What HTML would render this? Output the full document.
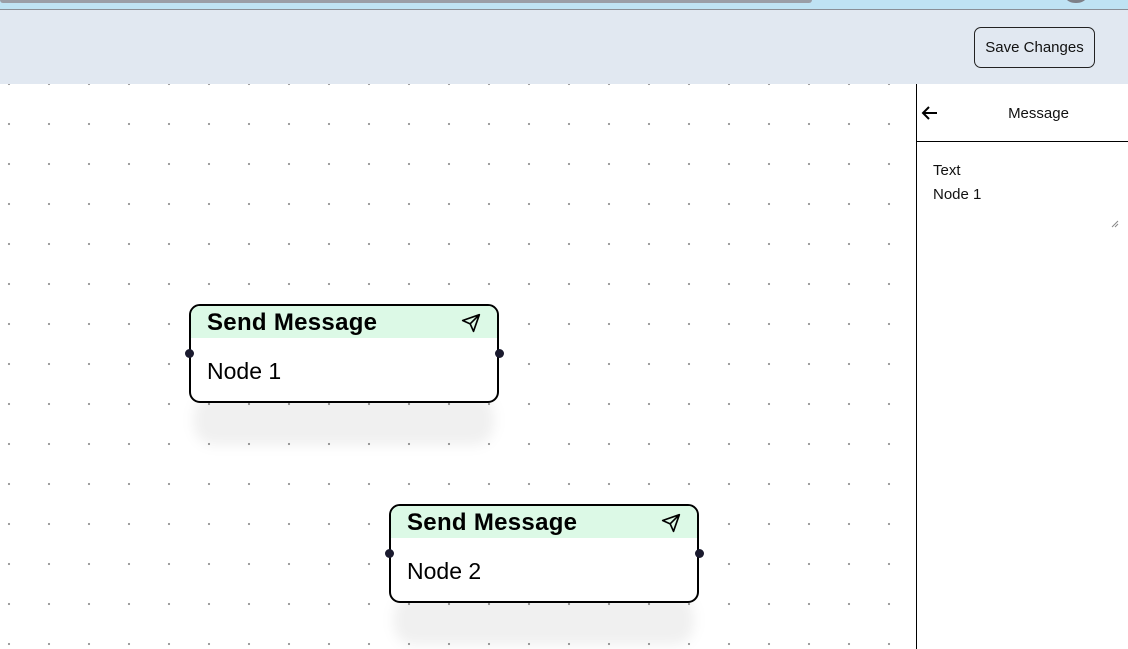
<!DOCTYPE html>
<html><head><style>
*{box-sizing:border-box;margin:0;padding:0}
body{width:1128px;height:649px;overflow:hidden;position:relative;background:#fff;font-family:"Liberation Sans",sans-serif}
.top{position:absolute;left:0;top:0;width:1128px;height:10px;background:#bfe3f3;border-bottom:1px solid #8a8f96}
.scroll{position:absolute;left:0;top:0;width:812px;height:3px;background:#9a9ea6;border-radius:0 0 4px 4px}
.circ{position:absolute;left:1066px;top:-8px;width:20px;height:11px;border-radius:50%;background:#7d8087}
.hdr{position:absolute;left:0;top:10px;width:1128px;height:74px;background:#e1e8f1}
.btn{position:absolute;left:974px;top:17px;width:121px;height:41px;border:1px solid #222;border-radius:7px;font-size:15px;line-height:39px;text-align:center;color:#111}
.canvas{position:absolute;left:0;top:84px;width:916px;height:565px;background-image:radial-gradient(circle,#9a9a9a 1px,transparent 1.3px);background-size:40px 40px;background-position:-11px 20px}
.panel{position:absolute;left:916px;top:84px;width:212px;height:565px;border-left:1px solid #000;background:#fff}
.ph{height:58px;border-bottom:1px solid #000;position:relative}
.ph .t{position:absolute;left:32px;right:0;top:21px;text-align:center;font-size:15px;color:#111}
.shadow{position:absolute;width:300px;height:50px;border-radius:20px;background:rgba(0,0,0,0.06);filter:blur(6px)}
.node{position:absolute;width:310px;height:99px;border:2px solid #000;border-radius:11px;background:#fff}
.nh{height:32px;background:#dcf9e6;border-radius:9px 9px 0 0;font-weight:bold;font-size:24px;letter-spacing:0.3px;padding-left:16px;line-height:34px;position:relative}
.nb{font-size:23px;padding-left:16px;padding-top:20px}
.h{position:absolute;top:43px;width:9px;height:9px;border-radius:50%;background:#1a1a2e}
</style></head><body>
<div class="top"><div class="scroll"></div><div class="circ"></div></div>
<div class="hdr"><div class="btn">Save Changes</div></div>
<div class="canvas"></div>
<div class="panel">
 <div class="ph"><svg style="position:absolute;left:4px;top:20px" width="18" height="18" viewBox="0 0 18 18"><path d="M16 9H2M8 3L2 9l6 6" stroke="#000" stroke-width="2" fill="none"/></svg><div class="t">Message</div></div>
 <div style="position:absolute;left:16px;top:75px;font-size:15px;line-height:24px;color:#111">Text<br>Node 1</div>
 <svg style="position:absolute;left:194px;top:136px" width="8" height="8"><path d="M1 7L7 1M4 7L7 4" stroke="#888" stroke-width="1"/></svg>
</div>
<div class="shadow" style="left:194px;top:395px"></div>
<div class="shadow" style="left:394px;top:595px"></div>
<div class="node" style="left:189px;top:304px"><div class="nh">Send Message<svg style="position:absolute;right:16px;top:7px" width="20" height="20" viewBox="0 0 24 24"><path d="M22 2L2 9l9 4 4 9z M22 2L11 13" stroke="#000" stroke-width="2" fill="none" stroke-linejoin="round"/></svg></div><div class="nb">Node 1</div><div class="h" style="left:-6.5px"></div><div class="h" style="right:-6.5px"></div></div>
<div class="node" style="left:389px;top:504px"><div class="nh">Send Message<svg style="position:absolute;right:16px;top:7px" width="20" height="20" viewBox="0 0 24 24"><path d="M22 2L2 9l9 4 4 9z M22 2L11 13" stroke="#000" stroke-width="2" fill="none" stroke-linejoin="round"/></svg></div><div class="nb">Node 2</div><div class="h" style="left:-6.5px"></div><div class="h" style="right:-6.5px"></div></div>
</body></html>
